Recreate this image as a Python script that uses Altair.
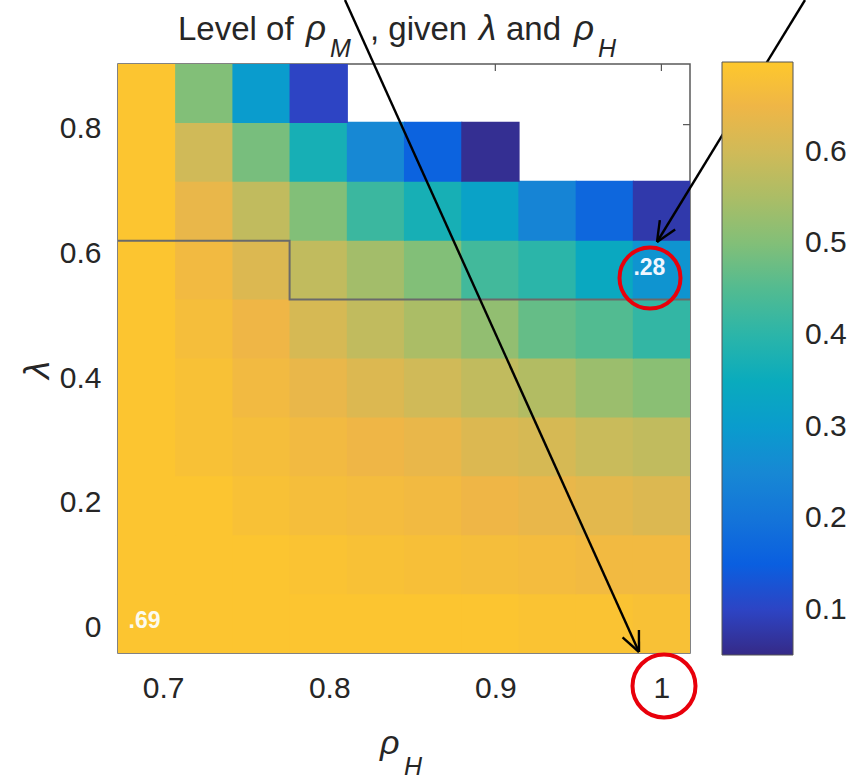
import math
import altair as alt
import pandas as pd

# ---------------- data ----------------
rho_H = [0.69, 0.7244, 0.7589, 0.7933, 0.8278, 0.8622, 0.8967, 0.9311, 0.9656, 1.0]
lam = [0.0, 0.0944, 0.1889, 0.2833, 0.3778, 0.4722, 0.5667, 0.6611, 0.7556, 0.85]

# rows from lambda = 0 (bottom) upward; None = no value (white)
row_0 = [0.69, 0.69, 0.69, 0.69, 0.69, 0.69, 0.69, 0.685, 0.685, 0.68]
row_1 = [0.69, 0.69, 0.69, 0.685, 0.68, 0.675, 0.67, 0.665, 0.66, 0.66]
row_2 = [0.69, 0.69, 0.68, 0.67, 0.665, 0.66, 0.65, 0.64, 0.63, 0.62]
row_3 = [0.69, 0.68, 0.67, 0.66, 0.65, 0.64, 0.62, 0.61, 0.59, 0.58]
row_4 = [0.69, 0.68, 0.66, 0.64, 0.62, 0.60, 0.58, 0.56, 0.53, 0.51]
row_5 = [0.69, 0.67, 0.65, 0.61, 0.58, 0.55, 0.52, 0.47, 0.45, 0.41]
row_6 = [0.69, 0.66, 0.62, 0.58, 0.54, 0.50, 0.43, 0.40, 0.34, 0.28]
row_7 = [0.69, 0.64, 0.58, 0.50, 0.42, 0.37, 0.32, 0.24, 0.17, 0.08]
row_8 = [0.69, 0.60, 0.49, 0.37, 0.25, 0.16, 0.06, None, None, None]
row_9 = [0.69, 0.50, 0.30, 0.10, None, None, None, None, None, None]
rows = [row_0, row_1, row_2, row_3, row_4, row_5, row_6, row_7, row_8, row_9]

x_ticks = [0.7, 0.8, 0.9, 1.0]
y_ticks = [0.0, 0.2, 0.4, 0.6, 0.8]
cbar_ticks = [0.1, 0.2, 0.3, 0.4, 0.5, 0.6]

# colormap (parula-like, as shown in the colorbar)
cmap_stops = [0.051, 0.1, 0.15, 0.2, 0.25, 0.3, 0.35, 0.4, 0.45, 0.5, 0.55, 0.6, 0.65, 0.698]
cmap_colors = ["#352a87", "#2d44c4", "#0a5fe0", "#1474d9", "#1788d4", "#0a9ccd", "#0aabbd",
               "#2bb5a9", "#52bb91", "#82bf78", "#abbd66", "#d0ba58", "#efb646", "#fec82c"]

# contour (boundary) drawn as a step line: (col boundary index, row boundary index)
contour_x_cols = [-0.5, 2.5, 2.5, 9.5]
contour_y_rows = [6.5, 6.5, 5.5, 5.5]

# ---------------- derived tables ----------------
dx = (rho_H[-1] - rho_H[0]) / (len(rho_H) - 1)
dy = (lam[-1] - lam[0]) / (len(lam) - 1)
ov = 0.02  # small overlap so neighbouring cells leave no anti-aliasing seams
cells = []
for j, r in enumerate(rows):
    for i, v in enumerate(r):
        if v is None:
            continue
        cells.append({"x0": rho_H[i] - dx / 2,
                      "x1": rho_H[i] + dx / 2 + (ov * dx if i < len(r) - 1 else 0),
                      "y0": lam[j] - dy / 2,
                      "y1": lam[j] + dy / 2 + (ov * dy if j < len(rows) - 1 else 0),
                      "v": v})
cells_df = pd.DataFrame(cells)

contour_df = pd.DataFrame({
    "x": [rho_H[0] + c * dx for c in contour_x_cols],
    "y": [lam[0] + r * dy for r in contour_y_rows],
    "o": list(range(len(contour_x_cols))),
})

xdom = [rho_H[0] - dx / 2, rho_H[-1] + dx / 2]
ydom = [lam[0] - dy / 2, lam[-1] + dy / 2]
xs = alt.Scale(domain=xdom, nice=False, zero=False)
ys = alt.Scale(domain=ydom, nice=False, zero=False)
cs = alt.Scale(domain=cmap_stops, range=cmap_colors, interpolate="rgb")

FONT = "Liberation Sans"
TXT = "#262626"
W, H = 572, 589
OX, OY = 118, 64  # plot origin in page pixels

xaxis = alt.Axis(values=x_ticks, format="~g", title=None, ticks=False, domain=False, grid=False,
                 labelFontSize=30, labelPadding=20, labelColor=TXT, labelFont=FONT)
yaxis = alt.Axis(values=y_ticks, format="~g", title=None, ticks=False, domain=False, grid=False,
                 labelFontSize=30, labelPadding=17, labelOffset=4, labelColor=TXT, labelFont=FONT)

# inner tick marks (under the image, visible only over white cells)
tick_top = alt.Chart(pd.DataFrame({"t": x_ticks})).mark_rule(color="#555555", strokeWidth=1.2).encode(
    x=alt.X("t:Q", scale=xs, axis=xaxis), y=alt.value(0), y2=alt.value(7))
tick_right = alt.Chart(pd.DataFrame({"t": y_ticks})).mark_rule(color="#555555", strokeWidth=1.2).encode(
    y=alt.Y("t:Q", scale=ys, axis=yaxis), x=alt.value(W), x2=alt.value(W - 7))

heat = alt.Chart(cells_df).mark_rect().encode(
    x=alt.X("x0:Q", scale=xs, axis=xaxis),
    x2="x1:Q",
    y=alt.Y("y0:Q", scale=ys, axis=yaxis),
    y2="y1:Q",
    color=alt.Color("v:Q", scale=cs,
                    legend=alt.Legend(orient="none", legendX=722 - OX, legendY=62 - OY,
                                      title=None, values=cbar_ticks, format=".1f",
                                      gradientLength=593, gradientThickness=71,
                                      gradientStrokeColor="#555555", gradientStrokeWidth=1,
                                      labelFontSize=30, labelFont=FONT, labelColor=TXT,
                                      labelOffset=12, labelOverlap=False, direction="vertical")),
)

contour = alt.Chart(contour_df).mark_line(color="#6a6a6a", strokeWidth=2).encode(
    x=alt.X("x:Q", scale=xs), y=alt.Y("y:Q", scale=ys), order="o:Q")

lbl_min = alt.Chart(pd.DataFrame({"x": [rho_H[0]], "y": [lam[0]], "t": [".69"]})).mark_text(
    color="#fbfbf0", fontSize=23, fontWeight="bold", font=FONT, dx=-2, dy=-3).encode(
    x=alt.X("x:Q", scale=xs), y=alt.Y("y:Q", scale=ys), text="t:N")
lbl_max = alt.Chart(pd.DataFrame({"x": [rho_H[9]], "y": [lam[6]], "t": [".28"]})).mark_text(
    color="#f0f6ff", fontSize=23, fontWeight="bold", font=FONT, dx=-12, dy=-2).encode(
    x=alt.X("x:Q", scale=xs), y=alt.Y("y:Q", scale=ys), text="t:N")

one = pd.DataFrame({"a": [0]})


def seg(x1, y1, x2, y2, color="black", w=2.4):
    return alt.Chart(one).mark_rule(color=color, strokeWidth=w).encode(
        x=alt.value(x1 - OX), y=alt.value(y1 - OY), x2=alt.value(x2 - OX), y2=alt.value(y2 - OY))


def arrow(x1, y1, x2, y2):
    layers = [seg(x1, y1, x2, y2)]
    ang = math.atan2(y1 - y2, x1 - x2)
    for s in (-0.42, 0.42):
        hx = x2 + 22 * math.cos(ang + s)
        hy = y2 + 22 * math.sin(ang + s)
        layers.append(seg(x2, y2, hx, hy))
    return layers


def ring(cx, cy, d):
    return alt.Chart(one).mark_point(shape="circle", filled=False, stroke="#e8000b",
                                     strokeWidth=4, size=d * d, opacity=1).encode(
        x=alt.value(cx - OX), y=alt.value(cy - OY))


def txt(s, x, y, size, italic=False, angle=0, align="left", baseline="alphabetic"):
    kw = dict(text=s, font=FONT, fontSize=size, color=TXT, align=align, baseline=baseline)
    if italic:
        kw["fontStyle"] = "italic"
    if angle:
        kw["angle"] = angle
    return alt.Chart(one).mark_text(**kw).encode(x=alt.value(x - OX), y=alt.value(y - OY))


title_parts = [
    txt("Level of", 178, 40, 33),
    txt("ρ", 306, 40, 35, italic=True),
    txt("M", 330, 57, 25, italic=True),
    txt(", given", 370, 40, 33),
    txt("λ", 479, 40, 35, italic=True),
    txt("and", 506, 40, 33),
    txt("ρ", 574, 40, 35, italic=True),
    txt("H", 598, 57, 25, italic=True),
]
axis_titles = [
    txt("ρ", 380, 754, 34, italic=True),
    txt("H", 404, 775, 25, italic=True),
    txt("λ", 38, 370, 36, italic=True, angle=270, align="center", baseline="middle"),
]

annot = []
annot += arrow(345, 0, 639, 652)
annot += arrow(805, 0, 657, 242)
annot += [ring(650, 278, 61), ring(664, 686, 63)]

chart = alt.layer(tick_top, tick_right, heat, contour, lbl_min, lbl_max,
                  *title_parts, *axis_titles, *annot).properties(
    width=W, height=H,
    autosize=alt.AutoSizeParams(type="none"),
    padding={"left": OX, "top": OY, "right": 861 - OX - W, "bottom": 779 - OY - H},
    background="white",
).configure_view(stroke="#5a5a5a", strokeWidth=1.5)

chart.save("out.html", embed_options={"renderer": "svg", "actions": False})
